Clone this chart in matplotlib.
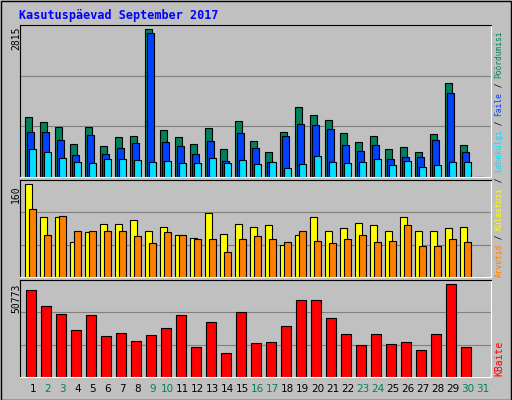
import matplotlib
matplotlib.use("Agg")
import matplotlib.pyplot as plt
import numpy as np

days = list(range(1, 32))
hits = [1153,1057,962,637,962,599,771,790,2815,905,771,637,943,541,1077,694,484,866,1344,1191,1096,847,675,790,541,580,484,828,1784,618,0]
files = [866,866,713,427,809,446,561,656,2739,675,599,446,694,312,847,561,293,790,1019,1000,924,618,503,618,350,389,389,713,1593,484,0]
pages = [541,484,369,293,274,350,350,331,293,312,274,274,369,274,331,255,293,178,255,408,293,274,293,350,236,312,198,236,293,293,0]
visits = [160,103,103,61,77,91,91,99,79,86,73,68,110,75,91,86,89,56,72,103,80,84,94,89,80,103,79,79,84,86,0]
sites = [118,73,106,80,80,80,80,70,58,77,73,65,65,44,65,70,66,61,79,63,58,65,73,60,63,89,53,53,65,61,0]
kbytes = [47437,38542,34095,25757,33539,22422,24089,19642,22977,26869,33539,16306,30204,12971,35207,18530,19086,27981,41877,41877,31872,23533,17418,23533,17974,19086,14639,23533,50773,16306,0]
weekend = [2,3,9,10,16,17,23,24,30,31]

W, H = 512, 400
fig = plt.figure(figsize=(W/100, H/100), dpi=100, facecolor="#c0c0c0")
mono = "DejaVu Sans Mono"

def ax_at(x0, y0, x1, y1):
    a = fig.add_axes([x0/W, 1-y1/H, (x1-x0)/W, (y1-y0)/H])
    a.set_facecolor("#c0c0c0")
    a.set_xlim(0, 31.4)
    a.set_xticks([]); a.set_yticks([])
    for s in a.spines.values():
        s.set_color("black"); s.set_linewidth(0.8)
    a.spines["right"].set_color("white"); a.spines["bottom"].set_color("white")
    return a

fig.text(19/W, 1-15/H, "Kasutuspäevad September 2017", color="#0000ff", fontsize=8.5,
         fontweight="bold", family=mono, va="center")

x = np.array(days, dtype=float)
bw = 0.47
ek = dict(edgecolor="black", linewidth=0.8)

a1 = ax_at(20, 25, 491, 177)
S1 = 2898
a1.set_ylim(0, S1)
for g in (S1/3, 2*S1/3):
    a1.axhline(g, color="#808080", lw=0.8, zorder=0)
a1.bar(x-0.67, hits, bw, align="edge", color="#00805c", **ek)
a1.bar(x-0.56, files, bw, align="edge", color="#0040ff", **ek)
a1.bar(x-0.42, pages, bw, align="edge", color="#00e0ff", **ek)
fig.text(16/W, 1-38/H, "2815", rotation=90, fontsize=7, family=mono, ha="center", va="center")

a2 = ax_at(20, 180, 491, 277)
S2 = 167.5
a2.set_ylim(0, S2)
for g in (S2/3, 2*S2/3):
    a2.axhline(g, color="#808080", lw=0.8, zorder=0)
a2.bar(x-0.67, visits, bw, align="edge", color="#ffff00", **ek)
a2.bar(x-0.42, sites, bw, align="edge", color="#ff8000", **ek)
fig.text(16/W, 1-194/H, "160", rotation=90, fontsize=7, family=mono, ha="center", va="center")

# right side legend, drawn bottom-up as consecutive segments
segs = [("Arvutid", "#ff8000"), (" / ", "black"), ("Külastusi", "#ffff00"), (" / ", "black"),
        ("Lehekülgi", "#00e0ff"), (" / ", "black"), ("Faile", "#0040ff"), (" / ", "black"),
        ("Pöördumisi", "#00805c")]
pitch = 4.75
ybot = 277
for s, c in segs:
    fig.text(499/W, 1-ybot/H, s, rotation=90, color=c, fontsize=5.7, family=mono,
             ha="center", va="bottom")
    ybot -= len(s)*pitch

a3 = ax_at(20, 280, 491, 377)
S3 = 52800
a3.set_ylim(0, S3)
for g in (S3/3, 2*S3/3):
    a3.axhline(g, color="#808080", lw=0.8, zorder=0)
a3.bar(x-0.62, kbytes, 0.69, align="edge", color="#ff0000", **ek)
fig.text(16/W, 1-298/H, "50773", rotation=90, fontsize=7, family=mono, ha="center", va="center")
fig.text(499/W, 1-376/H, "KBaite", rotation=90, color="#ff0000", fontsize=7, family=mono, ha="center", va="bottom")

for d in days:
    col = "#00805c" if d in weekend else "black"
    px = 20 + (d-0.15)*15
    fig.text(px/W, 1-389/H, str(d), color=col, fontsize=7.5, family="DejaVu Sans", ha="center", va="center")

fig.add_artist(plt.Rectangle((0.5/W, 0.5/H), 1-1.5/W, 1-1.5/H, transform=fig.transFigure, fill=False, edgecolor="black", lw=1))
fig.savefig("out.png", dpi=100, facecolor=fig.get_facecolor())
